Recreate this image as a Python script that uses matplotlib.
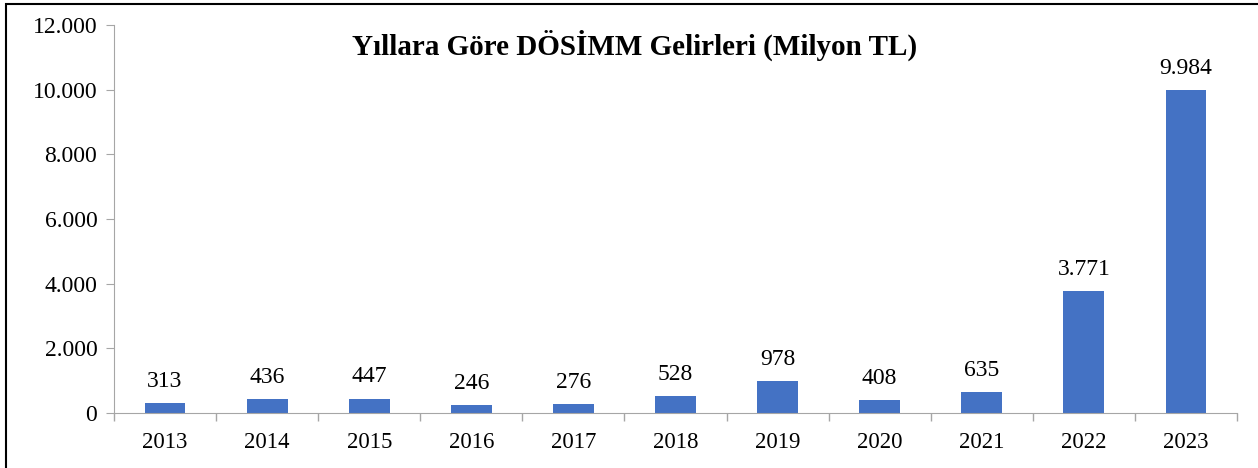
import matplotlib.pyplot as plt
from matplotlib.patches import Rectangle
from matplotlib.ticker import FuncFormatter

yillar = ['2013', '2014', '2015', '2016', '2017', '2018',
          '2019', '2020', '2021', '2022', '2023']
gelir = [313, 436, 447, 246, 276, 528, 978, 408, 635, 3771, 9984]


def nokta(v, pos=None):
    # binlik ayraci nokta
    return f'{int(v):,}'.replace(',', '.')


plt.rcParams['font.family'] = ['Liberation Serif', 'DejaVu Serif']

fig = plt.figure(figsize=(12.58, 4.68), dpi=100)
ax = fig.add_axes([0.0906, 0.1175, 0.8927, 0.8291])

x = list(range(len(yillar)))
ax.bar(x, gelir, width=0.4, color='#4472C4')

for xi, v in zip(x, gelir):
    ax.annotate(nokta(v), (xi, v), xytext=(0, 8), textcoords='offset points',
                ha='center', va='bottom', fontsize=17)

ax.set_xlim(-0.5, len(yillar) - 0.5)
ax.set_ylim(0, 12000)
ax.set_yticks(range(0, 12001, 2000))
ax.yaxis.set_major_formatter(FuncFormatter(nokta))
ax.set_xticks(x)
ax.set_xticklabels(yillar)
ax.set_xticks([i - 0.5 for i in range(len(yillar) + 1)], minor=True)
ax.tick_params(axis='x', which='major', length=0, labelsize=16.5, pad=14)
ax.tick_params(axis='x', which='minor', length=6, color='#A6A6A6', width=1)
ax.tick_params(axis='y', length=6, color='#A6A6A6', labelsize=17, pad=6)

for s in ('top', 'right'):
    ax.spines[s].set_visible(False)
for s in ('left', 'bottom'):
    ax.spines[s].set_color('#A6A6A6')

fig.text(635 / 1258, 1 - 45 / 468, 'Yıllara Göre DÖSİMM Gelirleri (Milyon TL)',
         ha='center', va='center', fontsize=21, fontweight='bold')

# cerceve
fig.patches.append(Rectangle((6 / 1258, -0.1), 1.1, 1 - 4 / 468 + 0.1,
                             transform=fig.transFigure, fill=False,
                             edgecolor='black', linewidth=1.5))

fig.savefig('out.png', dpi=100)
